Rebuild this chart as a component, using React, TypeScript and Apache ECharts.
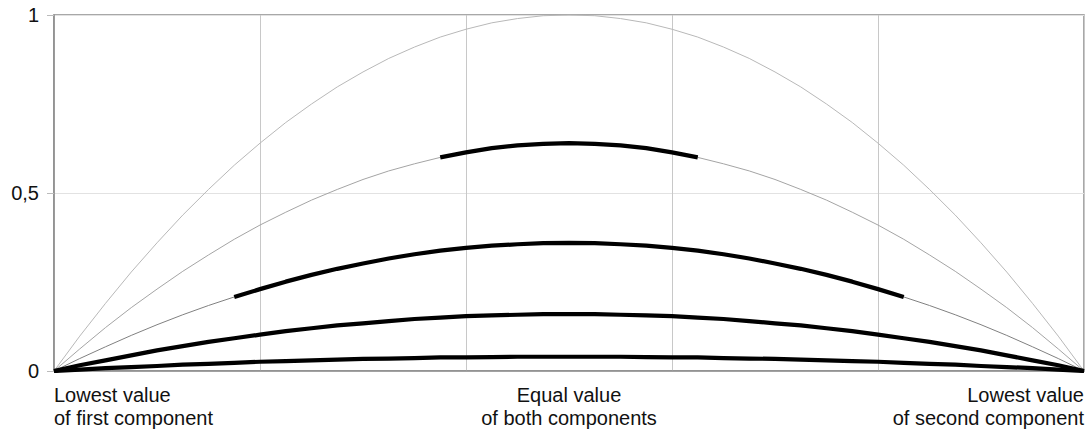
import React, { useEffect, useRef } from "react";
import * as echarts from "echarts";

// Position along the mix axis (0 = lowest value of first component, 1 = lowest value of second component)
const positions: number[] = [
  0, 0.025, 0.05, 0.075, 0.1, 0.125, 0.15, 0.175, 0.2, 0.225, 0.25, 0.275, 0.3, 0.325, 0.35, 0.375, 0.4,
  0.425, 0.45, 0.475, 0.5, 0.525, 0.55, 0.575, 0.6, 0.625, 0.65, 0.675, 0.7, 0.725, 0.75, 0.775, 0.8,
  0.825, 0.85, 0.875, 0.9, 0.925, 0.95, 0.975, 1,
];

// Curves (peaks 1, 0.64, 0.36, 0.16, 0.04)
const curve1: number[] = [
  0, 0.098, 0.19, 0.278, 0.36, 0.438, 0.51, 0.578, 0.64, 0.698, 0.75, 0.798, 0.84, 0.878, 0.91, 0.938, 0.96, 0.978, 0.99, 0.998,
  1.0, 0.998, 0.99, 0.978, 0.96, 0.938, 0.91, 0.878, 0.84, 0.798, 0.75, 0.698, 0.64, 0.578, 0.51, 0.438, 0.36, 0.278, 0.19, 0.098, 0,
];
const curve2: number[] = [
  0, 0.062, 0.122, 0.178, 0.23, 0.28, 0.326, 0.37, 0.41, 0.446, 0.48, 0.51, 0.538, 0.562, 0.582, 0.6, 0.614, 0.626, 0.634, 0.638,
  0.64, 0.638, 0.634, 0.626, 0.614, 0.6, 0.582, 0.562, 0.538, 0.51, 0.48, 0.446, 0.41, 0.37, 0.326, 0.28, 0.23, 0.178, 0.122, 0.062, 0,
];
const curve3: number[] = [
  0, 0.035, 0.068, 0.1, 0.13, 0.158, 0.184, 0.208, 0.23, 0.251, 0.27, 0.287, 0.302, 0.316, 0.328, 0.338, 0.346, 0.352, 0.356, 0.359,
  0.36, 0.359, 0.356, 0.352, 0.346, 0.338, 0.328, 0.316, 0.302, 0.287, 0.27, 0.251, 0.23, 0.208, 0.184, 0.158, 0.13, 0.1, 0.068, 0.035, 0,
];
const curve4: number[] = [
  0, 0.016, 0.03, 0.044, 0.058, 0.07, 0.082, 0.092, 0.102, 0.112, 0.12, 0.128, 0.134, 0.14, 0.146, 0.15, 0.154, 0.156, 0.158, 0.16,
  0.16, 0.16, 0.158, 0.156, 0.154, 0.15, 0.146, 0.14, 0.134, 0.128, 0.12, 0.112, 0.102, 0.092, 0.082, 0.07, 0.058, 0.044, 0.03, 0.016, 0,
];
const curve5: number[] = [
  0, 0.004, 0.008, 0.011, 0.014, 0.018, 0.02, 0.023, 0.026, 0.028, 0.03, 0.032, 0.034, 0.035, 0.036, 0.038, 0.038, 0.039, 0.04, 0.04,
  0.04, 0.04, 0.04, 0.039, 0.038, 0.038, 0.036, 0.035, 0.034, 0.032, 0.03, 0.028, 0.026, 0.023, 0.02, 0.018, 0.014, 0.011, 0.008, 0.004, 0,
];

// Highlighted (thick) stretch of each curve: [from position, to position]
const highlight2: [number, number] = [0.375, 0.625];
const highlight3: [number, number] = [0.175, 0.825];
const highlight4: [number, number] = [0, 1];
const highlight5: [number, number] = [0, 1];

const yTickLabels: Record<string, string> = { "0": "0", "0.5": "0,5", "1": "1" };
const xLabelLeft = "Lowest value\nof first component";
const xLabelMid = "Equal value\nof both components";
const xLabelRight = "Lowest value\nof second component";

const W = 1088;
const H = 430;
const GRID_LEFT = 54;
const GRID_RIGHT = 4;
const GRID_TOP = 15;
const GRID_BOTTOM = 59;
const FONT = "'Liberation Sans', Arial, sans-serif";

function pairs(vals: number[]) {
  return positions.map((p, i) => [p, vals[i]]);
}
function pairsIn(vals: number[], range: [number, number]) {
  return positions.map((p, i) => [p, p >= range[0] - 1e-9 && p <= range[1] + 1e-9 ? vals[i] : null]);
}

export default function App() {
  const ref = useRef<HTMLDivElement>(null);
  useEffect(() => {
    if (!ref.current) return;
    const chart = echarts.init(ref.current, undefined, { renderer: "svg" });
    const thin = (vals: number[], color: string) => ({
      type: "line",
      data: pairs(vals),
      showSymbol: false,
      symbol: "none",
      lineStyle: { color, width: 1 },
      z: 2,
      silent: true,
    });
    const thick = (vals: number[], range: [number, number]) => ({
      type: "line",
      data: pairsIn(vals, range),
      showSymbol: false,
      symbol: "none",
      connectNulls: false,
      lineStyle: { color: "#000", width: 4.2, cap: "butt", join: "round" },
      z: 3,
      silent: true,
    });
    const plotW = W - GRID_LEFT - GRID_RIGHT;
    const labelTop = H - GRID_BOTTOM + 12;
    const textStyle = (text: string, align: string) => ({
      text,
      font: `20px ${FONT}`,
      fill: "#111",
      align,
      verticalAlign: "top",
      lineHeight: 23,
    });
    chart.setOption({
      animation: false,
      grid: {
        left: GRID_LEFT,
        right: GRID_RIGHT,
        top: GRID_TOP,
        bottom: GRID_BOTTOM,
        show: true,
        borderColor: "#8c8c8c",
        borderWidth: 1.5,
      },
      xAxis: {
        type: "value",
        min: 0,
        max: 1,
        interval: 0.2,
        axisLabel: { show: false },
        axisTick: { show: false },
        axisLine: { show: true, lineStyle: { color: "#8c8c8c", width: 1.5 } },
        splitLine: { show: true, lineStyle: { color: "#c8c8c8", width: 1 } },
      },
      yAxis: {
        type: "value",
        min: 0,
        max: 1,
        interval: 0.5,
        axisLine: { show: true, lineStyle: { color: "#8c8c8c", width: 1.5 } },
        axisTick: { show: true, length: 7, lineStyle: { color: "#bbb" } },
        axisLabel: {
          margin: 15,
          fontFamily: FONT,
          fontSize: 20,
          color: "#111",
          formatter: (v: number) => yTickLabels[String(v)] ?? "",
        },
        splitLine: { show: true, lineStyle: { color: "#e2e2e2", width: 1 } },
      },
      graphic: [
        { type: "text", x: GRID_LEFT, y: labelTop, style: textStyle(xLabelLeft, "left") },
        {
          type: "text",
          x: GRID_LEFT + plotW / 2,
          y: labelTop,
          style: textStyle(xLabelMid, "center"),
        },
        {
          type: "text",
          x: W - GRID_RIGHT,
          y: labelTop,
          style: textStyle(xLabelRight, "right"),
        },
      ],
      series: [
        thin(curve1, "#b8b8b8"),
        thin(curve2, "#a4a4a4"),
        thin(curve3, "#808080"),
        thin(curve4, "#808080"),
        thin(curve5, "#808080"),
        thick(curve2, highlight2),
        thick(curve3, highlight3),
        thick(curve4, highlight4),
        thick(curve5, highlight5),
      ],
    });
    return () => chart.dispose();
  }, []);
  return (
    <div
      ref={ref}
      style={{ position: "fixed", left: 0, top: 0, width: W, height: H, background: "#fff" }}
    />
  );
}
